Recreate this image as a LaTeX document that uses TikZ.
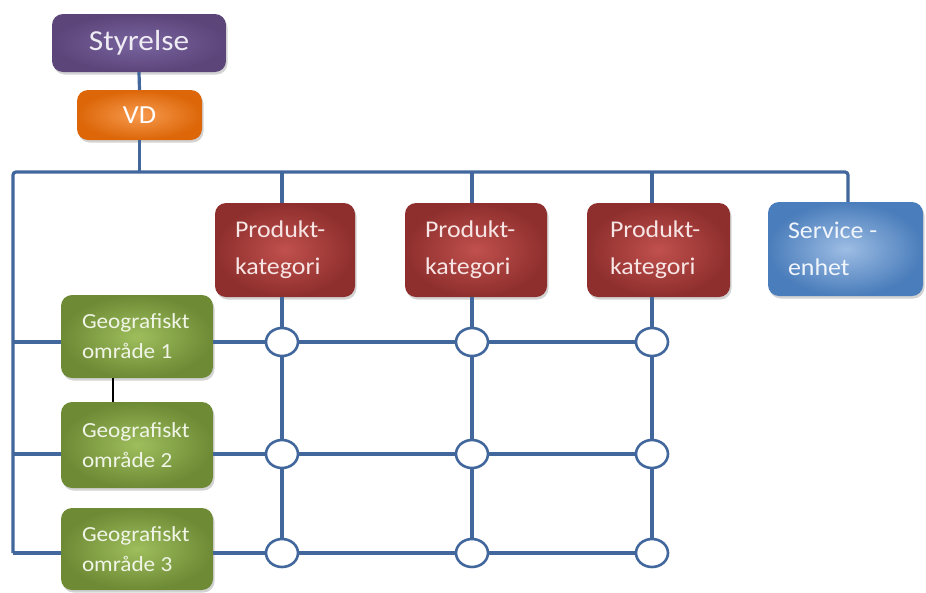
\documentclass[tikz,border=0pt]{standalone}
\usepackage{fontspec}
\setmainfont[FakeStretch=1.08]{Carlito}
\usetikzlibrary{shapes.geometric,shadows}

\definecolor{linkblue}{HTML}{41679C}
\definecolor{boardout}{HTML}{5B4579}
\definecolor{boardin}{HTML}{7A64A0}
\definecolor{ceoout}{HTML}{DC6608}
\definecolor{ceoin}{HTML}{F79A4E}
\definecolor{prodout}{HTML}{8E2F2D}
\definecolor{prodin}{HTML}{C0504D}
\definecolor{servout}{HTML}{4A7DBB}
\definecolor{servin}{HTML}{9DBDE4}
\definecolor{geoout}{HTML}{6E8A35}
\definecolor{geoin}{HTML}{9EBE5C}

\tikzset{
  unit/.style={rounded corners=11pt, inner xsep=0pt, inner ysep=0pt,
    drop shadow={shadow xshift=1.5pt, shadow yshift=-2.5pt, opacity=0.35},
    execute at begin node={\spaceskip=0pt\xspaceskip=0pt\relax}},
  board/.style={unit, inner color=boardin, outer color=boardout,
    minimum width=174pt, minimum height=58pt, text=white!88!boardin,
    font=\fontsize{29}{34}\selectfont},
  ceo/.style={unit, inner color=ceoin, outer color=ceoout,
    minimum width=125pt, minimum height=50pt, text=white,
    font=\fontsize{26}{30}\selectfont},
  prod/.style={unit, inner color=prodin, outer color=prodout,
    minimum height=94pt, text=white!85!prodin,
    font=\fontsize{24}{37}\selectfont, align=left},
  serv/.style={unit, inner color=servin, outer color=servout,
    minimum width=155pt, minimum height=94pt, text width=115pt,
    text=white!85!servin, font=\fontsize{24}{37}\selectfont, align=left},
  geo/.style={unit, inner color=geoin, outer color=geoout,
    minimum width=152pt, text width=110pt, text=white!85!geoin,
    font=\fontsize{21.5}{30}\selectfont, align=left},
  conn/.style={draw=linkblue, line width=3.2pt},
  junc/.style={ellipse, draw=linkblue, line width=2.6pt, fill=white,
    minimum width=32pt, minimum height=28pt, inner sep=0pt}
}

\begin{document}
\begin{tikzpicture}[x=1pt, y=-1pt]
  \useasboundingbox (0,0) rectangle (926,592);

  % management
  \node[board] (sty) at (139,43) {Styrelse};
  \node[ceo] (vd) at (139.5,115) {VD};

  % product categories and service unit
  \node[prod, minimum width=140pt, text width=100pt] (p1) at (285,250) {Produkt-\\kategori};
  \node[prod, minimum width=142pt, text width=102pt] (p2) at (476,250) {Produkt-\\kategori};
  \node[prod, minimum width=143pt, text width=97pt] (p3) at (658.5,250) {Produkt-\\kategori};
  \node[serv] (svc) at (845.5,249) {Service -\\enhet};

  % geographic areas
  \node[geo, minimum height=83pt] (g1) at (137,336.5) {Geografiskt\\område 1};
  \node[geo, minimum height=86pt] (g2) at (137,445) {Geografiskt\\område 2};
  \node[geo, minimum height=82pt] (g3) at (137,549) {Geografiskt\\område 3};

  % bus and trunk coordinates
  \coordinate (busL) at (13,172);
  \coordinate (busR) at (848,172);
  \coordinate (c1) at (282,172);
  \coordinate (c2) at (472,172);
  \coordinate (c3) at (652,172);
  \coordinate (r1) at (13,342);
  \coordinate (r2) at (13,454);
  \coordinate (r3) at (13,553);
  \coordinate (tick) at (113,390);

  % matrix junctions
  \node[junc] (n11) at (282,342) {};
  \node[junc] (n12) at (472,342) {};
  \node[junc] (n13) at (652,342) {};
  \node[junc] (n21) at (282,454) {};
  \node[junc] (n22) at (472,454) {};
  \node[junc] (n23) at (652,454) {};
  \node[junc] (n31) at (282,553) {};
  \node[junc] (n32) at (472,553) {};
  \node[junc] (n33) at (652,553) {};

  % hierarchy links
  \draw[conn] (sty.south) -- (vd.north);
  \draw[conn] (vd.south) -- (vd.south |- busL);
  \draw[conn, rounded corners=3pt] (r3) -- (busL) -- (busR) -- (busR |- svc.north);
  \draw[conn] (c1) -- (c1 |- p1.north);
  \draw[conn] (c2) -- (c2 |- p2.north);
  \draw[conn] (c3) -- (c3 |- p3.north);

  % left feeders to the areas
  \draw[conn] (r1) -- (g1.west |- r1);
  \draw[conn] (r2) -- (g2.west |- r2);
  \draw[conn] (r3) -- (g3.west |- r3);

  % matrix columns
  \draw[conn] (p1.south -| n11) -- (n11) -- (n21) -- (n31);
  \draw[conn] (p2.south -| n12) -- (n12) -- (n22) -- (n32);
  \draw[conn] (p3.south -| n13) -- (n13) -- (n23) -- (n33);

  % matrix rows
  \draw[conn] (g1.east |- n11) -- (n11) -- (n12) -- (n13);
  \draw[conn] (g2.east |- n21) -- (n21) -- (n22) -- (n23);
  \draw[conn] (g3.east |- n31) -- (n31) -- (n32) -- (n33);

  % short link between the first two areas
  \draw[black, line width=2.4pt] (g1.south -| tick) -- (g2.north -| tick);
\end{tikzpicture}
\end{document}
